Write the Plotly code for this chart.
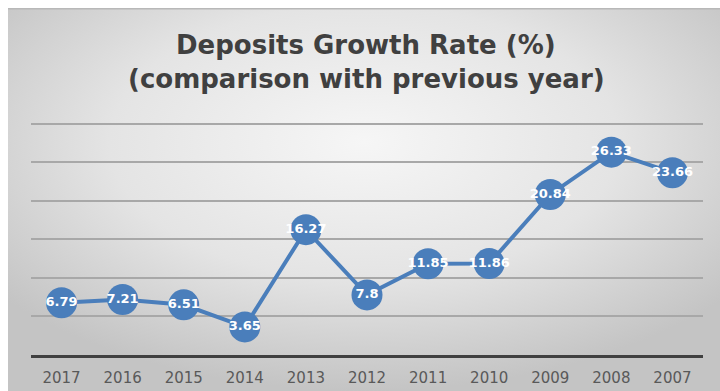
import base64
import plotly.graph_objects as go

years = ["2017", "2016", "2015", "2014", "2013", "2012", "2011", "2010", "2009", "2008", "2007"]
growth = [6.79, 7.21, 6.51, 3.65, 16.27, 7.8, 11.85, 11.86, 20.84, 26.33, 23.66]
labels = ["6.79", "7.21", "6.51", "3.65", "16.27", "7.8", "11.85", "11.86", "20.84", "26.33", "23.66"]
title_lines = ["Deposits Growth Rate (%)", "(comparison with previous year)"]
grid_vals = [5, 10, 15, 20, 25, 30]

W, H = 720, 391
L, R, T, B = 31, 17, 120, 36
pw, ph = W - L - R, H - T - B

blue = "#4a7ebb"

svg = (
    '<svg xmlns="http://www.w3.org/2000/svg" width="712" height="383" viewBox="0 0 712 383" preserveAspectRatio="none">'
    '<defs><radialGradient id="g" cx="50%" cy="35%" r="65%">'
    '<stop offset="0" stop-color="#f6f6f6"/><stop offset="0.55" stop-color="#e4e4e4"/>'
    '<stop offset="1" stop-color="#c4c4c4"/></radialGradient></defs>'
    '<rect x="0" y="0" width="712" height="383" fill="url(#g)"/>'
    '<rect x="0" y="0" width="712" height="1.5" fill="#b8b8b8"/>'
    '</svg>'
)
src = "data:image/svg+xml;base64," + base64.b64encode(svg.encode()).decode()

fig = go.Figure()
fig.add_trace(go.Scatter(
    x=years, y=growth, text=labels,
    mode="lines+markers+text",
    line=dict(color=blue, width=4),
    marker=dict(size=31, color=blue),
    textposition="middle center",
    textfont=dict(family="DejaVu Sans", size=13, color="white", weight="bold"),
    hoverinfo="skip",
))

x0 = 8
y0 = 8
fig.add_layout_image(dict(
    source=src, xref="paper", yref="paper",
    x=(x0 - L) / pw, y=(H - B - y0) / ph,
    sizex=(W - x0) / pw, sizey=(H - y0) / ph,
    xanchor="left", yanchor="top", sizing="stretch", layer="below",
))

for line, ypix in zip(title_lines, [45, 79]):
    fig.add_annotation(
        text="<b>" + line + "</b>", showarrow=False,
        xref="paper", yref="paper",
        x=(366 - L) / pw, y=(H - B - ypix) / ph,
        xanchor="center", yanchor="middle",
        font=dict(family="DejaVu Sans", size=26, color="#404040"),
    )

fig.update_layout(
    width=W, height=H,
    margin=dict(l=L, r=R, t=T, b=B, pad=0, autoexpand=False),
    paper_bgcolor="white",
    plot_bgcolor="rgba(0,0,0,0)",
    showlegend=False,
    xaxis=dict(
        type="category", range=[-0.5, 10.5], automargin=False,
        showgrid=False, showline=True, linecolor="#404040", linewidth=2.5,
        ticks="", tickfont=dict(family="DejaVu Sans", size=15, color="#595959"),
        ticklabelstandoff=7,
        fixedrange=True,
    ),
    yaxis=dict(
        range=[0, 30.5], tickvals=grid_vals, showticklabels=False, automargin=False,
        showgrid=True, gridcolor="#a8a8a8", gridwidth=1.5,
        zeroline=False, showline=False, fixedrange=True,
    ),
)

fig.write_html("out.html")
